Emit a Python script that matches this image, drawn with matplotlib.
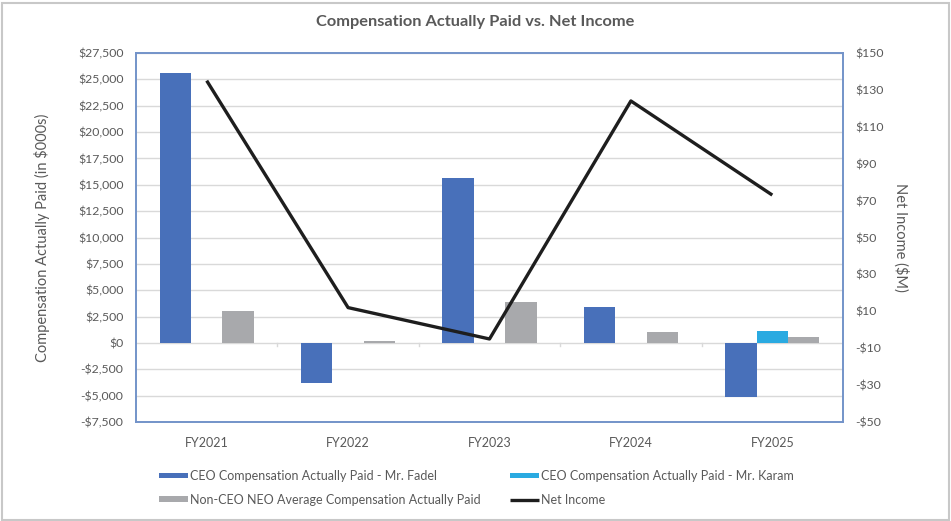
import matplotlib
matplotlib.use("Agg")
import matplotlib.pyplot as plt
from matplotlib.patches import Rectangle
from matplotlib.ticker import FuncFormatter
import numpy as np

categories = ["FY2021", "FY2022", "FY2023", "FY2024", "FY2025"]
ceo_fadel = [25600, -3775, 15600, 3400, -5100]
ceo_karam = [0, 0, 0, 0, 1100]
non_ceo = [3000, 150, 3900, 1075, 530]
net_income = [135, 12, -5, 124, 73]
left_ticks = list(range(-7500, 27501, 2500))
right_ticks = list(range(-50, 151, 20))

c_fadel = "#4870BA"
c_karam = "#2AAAE1"
c_gray = "#A8A9AC"
c_line = "#1E1E1E"
txt = "#595959"

plt.rcParams["font.family"] = ["Lato", "DejaVu Sans"]

fig = plt.figure(figsize=(9.51, 5.21), dpi=100)
W, H = 951, 521
ax = fig.add_axes([136 / W, 1 - 422 / H, (843 - 136) / W, (422 - 53) / H])
ax2 = ax.twinx()

x = np.arange(len(categories))
bw = 1 / 4.5
ax.bar(x - bw, ceo_fadel, bw, color=c_fadel, zorder=3, label="CEO Compensation Actually Paid - Mr. Fadel")
karam_x = [xi for xi, v in zip(x, ceo_karam) if v != 0]
karam_v = [v for v in ceo_karam if v != 0]
ax.bar(karam_x, karam_v, bw, color=c_karam, zorder=3, label="CEO Compensation Actually Paid - Mr. Karam")
ax.bar(x + bw, non_ceo, bw, color=c_gray, zorder=3, label="Non-CEO NEO Average Compensation Actually Paid")

ax.set_xlim(-0.5, len(categories) - 0.5)
ax.set_ylim(left_ticks[0], left_ticks[-1])
ax.set_yticks(left_ticks)
ax.grid(axis="y", color="#D9D9D9", linewidth=1.0, zorder=0)
ax.set_axisbelow(True)

def lfmt(v, p):
    v = int(round(v))
    return ("-$" if v < 0 else "$") + f"{abs(v):,}"

ax.yaxis.set_major_formatter(FuncFormatter(lfmt))
ax.set_xticks(x)
ax.set_xticklabels(categories)
ax.tick_params(axis="x", length=0, pad=11, labelsize=9, labelcolor=txt)
ax.tick_params(axis="y", length=0, pad=9, labelsize=8.8, labelcolor=txt)

for b in np.arange(0.5, len(categories) - 0.5, 1):
    ax.plot([b, b], [-250, 0], color="#D9D9D9", linewidth=1.0, zorder=1)

ax2.plot(x, net_income, color=c_line, linewidth=2.4, zorder=4, label="Net Income", solid_capstyle="butt")
ax2.set_ylim(right_ticks[0], right_ticks[-1])
ax2.set_yticks(right_ticks)

def rfmt(v, p):
    v = int(round(v))
    return ("-$" if v < 0 else "$") + f"{abs(v)}"

ax2.yaxis.set_major_formatter(FuncFormatter(rfmt))
ax2.tick_params(axis="y", length=0, pad=9, labelsize=8.8, labelcolor=txt)

for a in (ax, ax2):
    for s in a.spines.values():
        s.set_color("#7393C9")
        s.set_linewidth(1.2)

ax.set_ylabel("Compensation Actually Paid (in $000s)", fontsize=10.5, color=txt, labelpad=20)
ax2.set_ylabel("Net Income ($M)", fontsize=10.5, color=txt, rotation=270, labelpad=18)

fig.text(0.5, 1 - 22 / H, "Compensation Actually Paid vs. Net Income", ha="center", va="center",
         fontsize=11.8, fontweight="bold", color=txt)

h1, l1 = ax.get_legend_handles_labels()
h2, l2 = ax2.get_legend_handles_labels()
leg_kw = dict(loc="upper left", frameon=False, fontsize=9, handlelength=2.3, handleheight=0.35,
              handletextpad=0.2, labelspacing=0.95, borderaxespad=0, borderpad=0)
leg1 = fig.legend([h1[0], h1[2]], [l1[0], l1[2]], bbox_to_anchor=(159 / W, 1 - 470 / H), **leg_kw)
leg2 = fig.legend([h1[1], h2[0]], [l1[1], l2[0]], bbox_to_anchor=(510 / W, 1 - 470 / H), **leg_kw)
for lg in (leg1, leg2):
    for t in lg.get_texts():
        t.set_color(txt)

fig.patches.append(Rectangle((1.5 / W, 1.5 / H), 1 - 4 / W, 1 - 4 / H, transform=fig.transFigure,
                             fill=False, edgecolor="#C8C8C8", linewidth=1.5))

fig.savefig("out.png", dpi=100, facecolor="white")
